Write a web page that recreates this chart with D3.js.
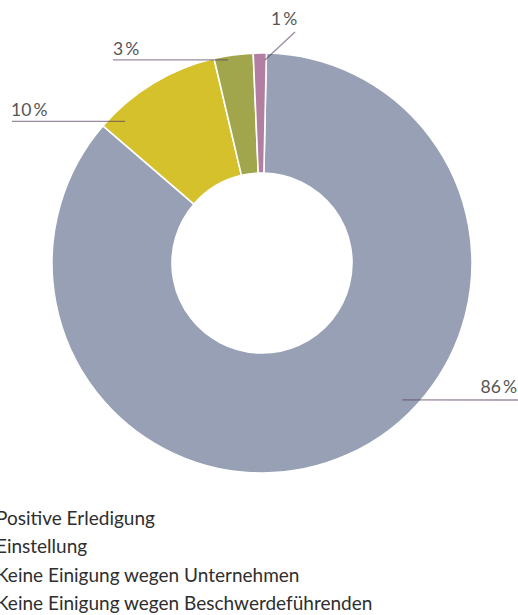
<!DOCTYPE html>
<html>
<head>
<meta charset="utf-8">
<script src="https://cdn.jsdelivr.net/npm/d3@7"></script>
<style>
  html, body { margin: 0; padding: 0; background: #fff; }
  svg { display: block; }
</style>
</head>
<body>
<svg id="chart" width="518" height="615"></svg>
<script>
// Verfahrensausgang – Anteile in Prozent
const categories = [
  "Positive Erledigung",
  "Einstellung",
  "Keine Einigung wegen Unternehmen",
  "Keine Einigung wegen Beschwerdeführenden"
];
const values = [86, 10, 3, 1];
const colors = ["#97a0b4", "#d5c12c", "#a1a64d", "#b27ea1"];

const W = 518, H = 615;
const cx = 262, cy = 263;
const rOuter = 210, rInner = 90;
const startDeg = 1.2;

const svg = d3.select("#chart");
const font = "Lato, 'Open Sans', sans-serif";

const pie = d3.pie().sort(null).value(d => d)
  .startAngle(startDeg * Math.PI / 180)
  .endAngle((startDeg + 360) * Math.PI / 180);
const arcs = pie(values);
const arc = d3.arc().innerRadius(rInner).outerRadius(rOuter);

const g = svg.append("g").attr("transform", `translate(${cx},${cy})`);
g.selectAll("path.slice")
  .data(arcs)
  .join("path")
  .attr("class", "slice")
  .attr("d", arc)
  .attr("fill", (d, i) => colors[i])
  .attr("stroke", "#fff")
  .attr("stroke-width", 1.6)
  .attr("stroke-linejoin", "round");

// Leader lines: anchor inside the slice (fraction of its sweep, radius), then to the label
const leaders = [
  { frac: 0.43, r: 196, lineTo: [W, 400], label: [517, 393], anchor: "end" },
  { frac: 0.144, r: 197, lineTo: [12, null], label: [11, 116], anchor: "start" },
  { frac: 0.34, r: 206, lineTo: [113, null], label: [113, 55], anchor: "start" },
  { frac: 0.9, r: 203, lineTo: [295, 32], label: [271, 25], anchor: "start" }
];

function polar(a, r) {
  return [cx + r * Math.sin(a), cy - r * Math.cos(a)];
}

const fmt = v => `${v}\u2009%`;

arcs.forEach((d, i) => {
  const L = leaders[i];
  const a = d.startAngle + L.frac * (d.endAngle - d.startAngle);
  const p = polar(a, L.r);
  const end = [L.lineTo[0], L.lineTo[1] == null ? p[1] : L.lineTo[1]];
  svg.append("line")
    .attr("x1", p[0]).attr("y1", p[1])
    .attr("x2", end[0]).attr("y2", end[1])
    .attr("stroke", "rgba(85,60,95,0.6)")
    .attr("stroke-width", 1.3);
  svg.append("text")
    .attr("x", L.label[0]).attr("y", L.label[1])
    .attr("text-anchor", L.anchor)
    .attr("font-family", font)
    .attr("font-size", 17.5)
    .attr("fill", "#555")
    .text(fmt(values[i]));
});

// Legend (entries start just past the left edge)
const legend = svg.append("g").attr("font-family", font).attr("fill", "#2e2e2e");
const legY = [525, 553, 582, 610];
legend.selectAll("text")
  .data(categories)
  .join("text")
  .attr("x", -4)
  .attr("y", (d, i) => legY[i])
  .attr("font-size", 19)
  .text(d => d);
</script>
</body>
</html>
